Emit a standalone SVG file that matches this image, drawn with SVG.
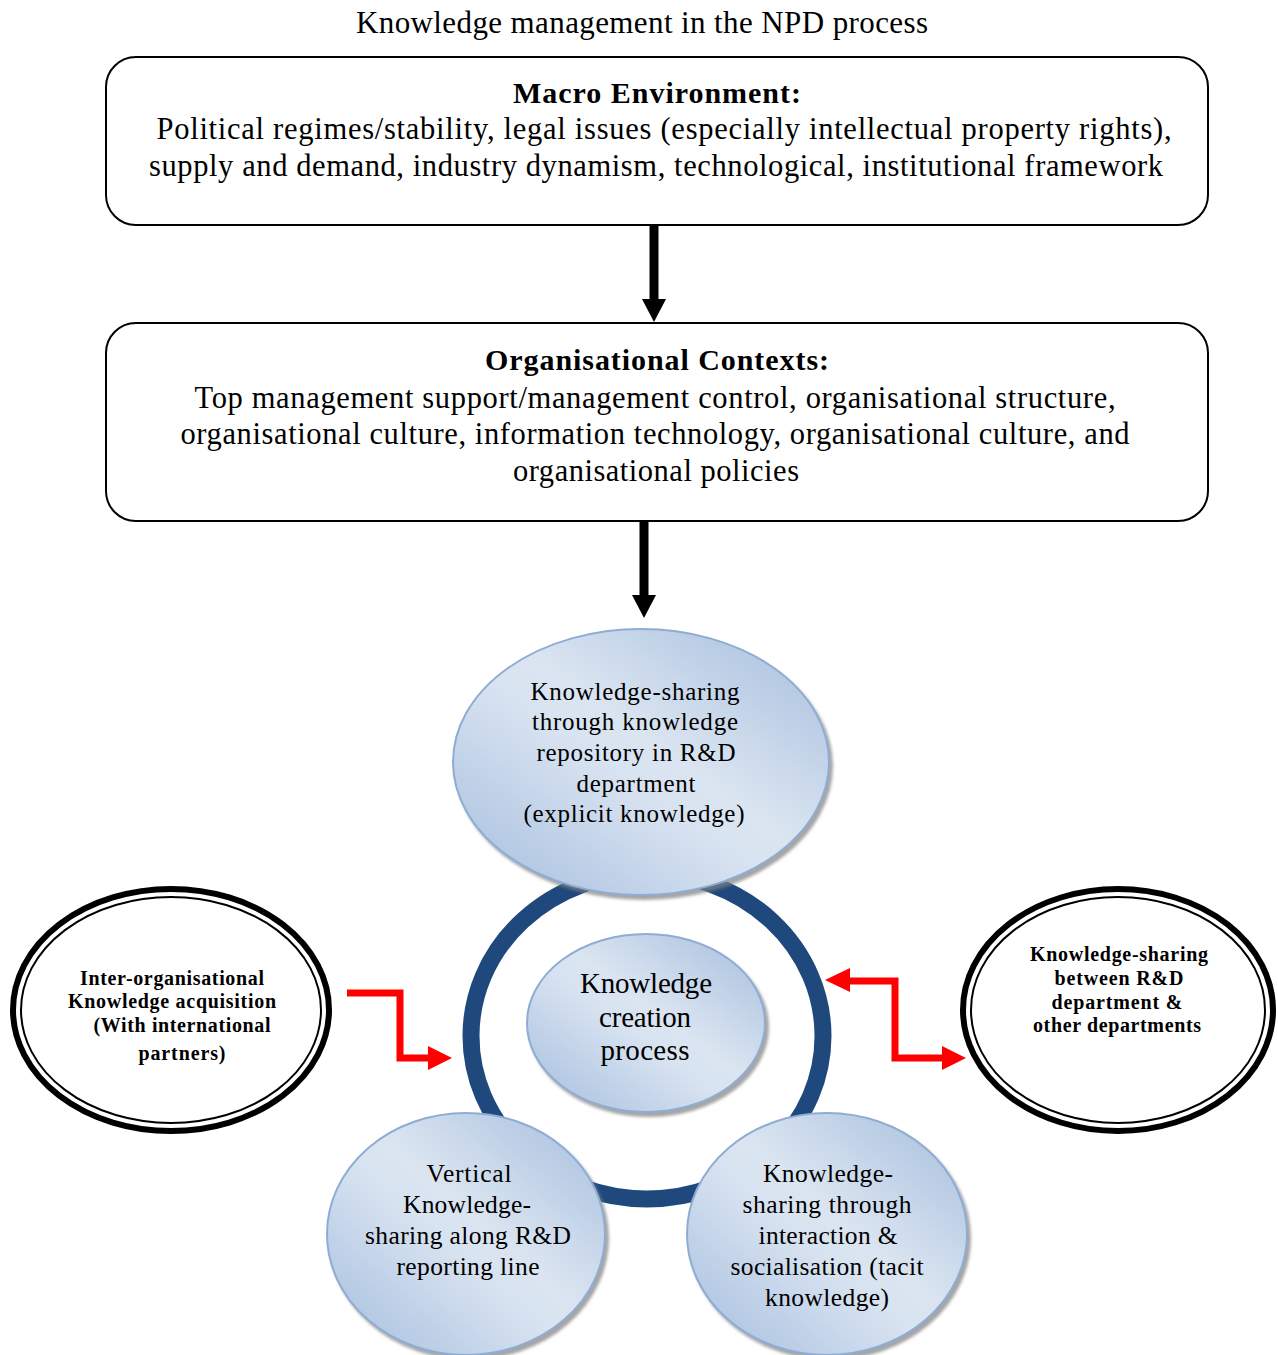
<svg xmlns="http://www.w3.org/2000/svg" width="1278" height="1355" viewBox="0 0 1278 1355">
  <style>
    text { font-family: "Liberation Serif", "Times New Roman", serif; fill: #000; text-anchor: middle; }
    .title { font-size: 31px; }
    .box { fill: #fff; stroke: #000; stroke-width: 2; }
    .head { font-size: 30px; font-weight: bold; }
    .body { font-size: 30.5px; }
    .bubble { fill: url(#bubbleFill); stroke: #8eacd4; stroke-width: 2; filter: url(#shade); }
    .t-top { font-size: 25px; }
    .t-mid { font-size: 29px; }
    .t-low { font-size: 25.5px; }
    .t-side { font-size: 20px; font-weight: bold; }
    .outer { fill: #fff; stroke: #000; stroke-width: 6; }
    .inner { fill: none; stroke: #000; stroke-width: 2; }
    .flow { fill: none; stroke: #000; stroke-width: 9; }
    .link { fill: none; stroke: #ff0000; stroke-width: 7; }
  </style>
  <defs>
    <linearGradient id="bubbleFill" x1="0" y1="1" x2="1" y2="0">
      <stop offset="0" stop-color="#a4bddd"/>
      <stop offset="0.45" stop-color="#d8e3f1"/>
      <stop offset="0.55" stop-color="#dbe5f1"/>
      <stop offset="1" stop-color="#a4bddd"/>
    </linearGradient>
    <filter id="shade" x="-10%" y="-10%" width="125%" height="125%">
      <feDropShadow dx="3" dy="4" stdDeviation="1.5" flood-color="#7f7f7f" flood-opacity="0.7"/>
    </filter>
  </defs>

  <text class="title" x="642" y="33" textLength="572">Knowledge management in the NPD process</text>

  <g id="macro-environment">
    <rect class="box" x="106" y="57" width="1102" height="168" rx="30"/>
    <text class="head" x="657" y="103" textLength="288">Macro Environment:</text>
    <text class="body" x="664" y="139" textLength="1015">Political regimes/stability, legal issues (especially intellectual property rights),</text>
    <text class="body" x="656" y="176" textLength="1014">supply and demand, industry dynamism, technological, institutional framework</text>
  </g>

  <g id="organisational-contexts">
    <rect class="box" x="106" y="323" width="1102" height="198" rx="30"/>
    <text class="head" x="657" y="370" textLength="344">Organisational Contexts:</text>
    <text class="body" x="655" y="408" textLength="921">Top management support/management control, organisational structure,</text>
    <text class="body" x="655" y="444" textLength="949">organisational culture, information technology, organisational culture, and</text>
    <text class="body" x="656" y="481" textLength="286">organisational policies</text>
  </g>

  <g id="connectors">
    <line class="flow" x1="654" y1="225" x2="654" y2="301"/>
    <polygon points="642,299 666,299 654,322" fill="#000"/>
    <line class="flow" x1="644" y1="521" x2="644" y2="597"/>
    <polygon points="632,595 656,595 644,618" fill="#000"/>

    <polyline class="link" points="347,993 400,993 400,1058 430,1058"/>
    <polygon points="428,1046 452,1058 428,1070" fill="#ff0000"/>

    <polyline class="link" points="848,981 895,981 895,1058 944,1058"/>
    <polygon points="850,968 825,980 850,992" fill="#ff0000"/>
    <polygon points="942,1046 966,1058 942,1070" fill="#ff0000"/>
  </g>

  <g id="cycle-ring">
    <ellipse cx="647" cy="1036" rx="176" ry="163" fill="none" stroke="#1f497d" stroke-width="17"/>
  </g>

  <g id="knowledge-creation">
    <ellipse class="bubble" cx="646" cy="1023" rx="119" ry="89"/>
    <text class="t-mid" x="646" y="993" textLength="132">Knowledge</text>
    <text class="t-mid" x="645" y="1027" textLength="92">creation</text>
    <text class="t-mid" x="645" y="1060" textLength="89">process</text>
  </g>

  <g id="explicit-sharing">
    <ellipse class="bubble" cx="641" cy="762" rx="188" ry="133"/>
    <text class="t-top" x="635" y="700" textLength="209">Knowledge-sharing</text>
    <text class="t-top" x="635" y="730" textLength="206">through knowledge</text>
    <text class="t-top" x="636" y="761" textLength="199">repository in R&amp;D</text>
    <text class="t-top" x="636" y="792" textLength="119">department</text>
    <text class="t-top" x="634" y="822" textLength="221">(explicit knowledge)</text>
  </g>

  <g id="vertical-sharing">
    <ellipse class="bubble" cx="466" cy="1234" rx="139" ry="121"/>
    <text class="t-low" x="469" y="1182" textLength="85">Vertical</text>
    <text class="t-low" x="467" y="1213" textLength="128">Knowledge-</text>
    <text class="t-low" x="468" y="1244" textLength="206">sharing along R&amp;D</text>
    <text class="t-low" x="468" y="1275" textLength="143">reporting line</text>
  </g>

  <g id="tacit-sharing">
    <ellipse class="bubble" cx="827" cy="1234" rx="140" ry="121"/>
    <text class="t-low" x="828" y="1182" textLength="130">Knowledge-</text>
    <text class="t-low" x="827" y="1213" textLength="169">sharing through</text>
    <text class="t-low" x="828" y="1244" textLength="139">interaction &amp;</text>
    <text class="t-low" x="827" y="1275" textLength="193">socialisation (tacit</text>
    <text class="t-low" x="827" y="1306" textLength="124">knowledge)</text>
  </g>

  <g id="inter-organisational">
    <ellipse class="outer" cx="171" cy="1010" rx="158" ry="121"/>
    <ellipse class="inner" cx="171" cy="1010" rx="150" ry="113"/>
    <text class="t-side" x="172" y="985" textLength="184">Inter-organisational</text>
    <text class="t-side" x="172" y="1008" textLength="208">Knowledge acquisition</text>
    <text class="t-side" x="182" y="1032" textLength="177">(With international</text>
    <text class="t-side" x="182" y="1060" textLength="87">partners)</text>
  </g>

  <g id="cross-department">
    <ellipse class="outer" cx="1118" cy="1010" rx="155" ry="121"/>
    <ellipse class="inner" cx="1118" cy="1010" rx="147" ry="113"/>
    <text class="t-side" x="1119" y="961" textLength="178">Knowledge-sharing</text>
    <text class="t-side" x="1119" y="985" textLength="129">between R&amp;D</text>
    <text class="t-side" x="1117" y="1009" textLength="131">department &amp;</text>
    <text class="t-side" x="1117" y="1032" textLength="168">other departments</text>
  </g>
</svg>
